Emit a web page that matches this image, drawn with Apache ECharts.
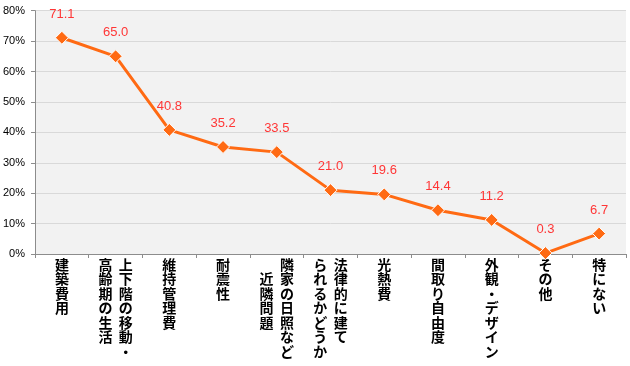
<!DOCTYPE html>
<html>
<head>
<meta charset="utf-8">
<script src="https://cdn.jsdelivr.net/npm/echarts@6/dist/echarts.min.js"></script>
<style>
html,body{margin:0;padding:0;background:#fff;}
#chart{width:630px;height:366px;}
</style>
</head>
<body>
<div id="chart"></div>
<script>
const categories = [
  "建築費用",
  "上下階の移動・\n高齢期の生活",
  "維持管理費",
  "耐震性",
  "隣家の日照など\n　近隣問題",
  "法律的に建て\nられるかどうか",
  "光熱費",
  "間取り自由度",
  "外観・デザイン",
  "その他",
  "特にない"
];
const values = [71.1, 65.0, 40.8, 35.2, 33.5, 21.0, 19.6, 14.4, 11.2, 0.3, 6.7];
const yTicks = [0, 10, 20, 30, 40, 50, 60, 70, 80];

function verticalText(s) {
  const cols = s.split("\n").map(c => Array.from(c)).reverse();
  const n = Math.max.apply(null, cols.map(c => c.length));
  const rows = [];
  for (let i = 0; i < n; i++) {
    rows.push(cols.map(c => c[i] || "\u3000").join("  "));
  }
  return rows.join("\n");
}

const chart = echarts.init(document.getElementById("chart"), null, {renderer: "canvas"});
chart.setOption({
  animation: false,
  backgroundColor: "#ffffff",
  grid: {
    left: 33, right: 4, top: 10.7, bottom: 112,
    show: true, backgroundColor: "#f2f2f2", borderWidth: 0,
    containLabel: false
  },
  xAxis: {
    type: "category",
    data: categories,
    boundaryGap: true,
    axisLine: {show: true, lineStyle: {color: "#8c8c8c", width: 1}},
    axisTick: {show: true, length: 4, lineStyle: {color: "#8c8c8c"}},
    axisLabel: {
      interval: 0,
      margin: 3,
      color: "#000",
      fontFamily: "Noto Sans CJK JP",
      fontWeight: "bold",
      fontSize: 14,
      lineHeight: 14.5,
      align: "center",
      verticalAlign: "top",
      formatter: v => verticalText(v)
    },
    splitLine: {show: false}
  },
  yAxis: {
    type: "value",
    min: yTicks[0],
    max: yTicks[yTicks.length - 1],
    interval: yTicks[1] - yTicks[0],
    axisLine: {show: true, lineStyle: {color: "#8c8c8c", width: 1}},
    axisTick: {show: true, length: 4, lineStyle: {color: "#8c8c8c"}},
    axisLabel: {
      color: "#000",
      fontFamily: "Liberation Sans, Arial, sans-serif",
      fontSize: 11,
      margin: 10,
      formatter: "{value}%"
    },
    splitLine: {show: true, lineStyle: {color: "#d9d9d9", width: 1}}
  },
  series: [{
    type: "line",
    data: values,
    symbol: "diamond",
    symbolSize: 13,
    lineStyle: {color: "#ff6a13", width: 3},
    itemStyle: {color: "#ff6a13", borderColor: "#ffffff", borderWidth: 1},
    label: {
      show: true,
      position: "top",
      distance: 10,
      color: "#ff3636",
      fontFamily: "Liberation Sans, Arial, sans-serif",
      fontSize: 13,
      formatter: p => p.value.toFixed(1)
    },
    z: 3
  }]
});
</script>
</body>
</html>
